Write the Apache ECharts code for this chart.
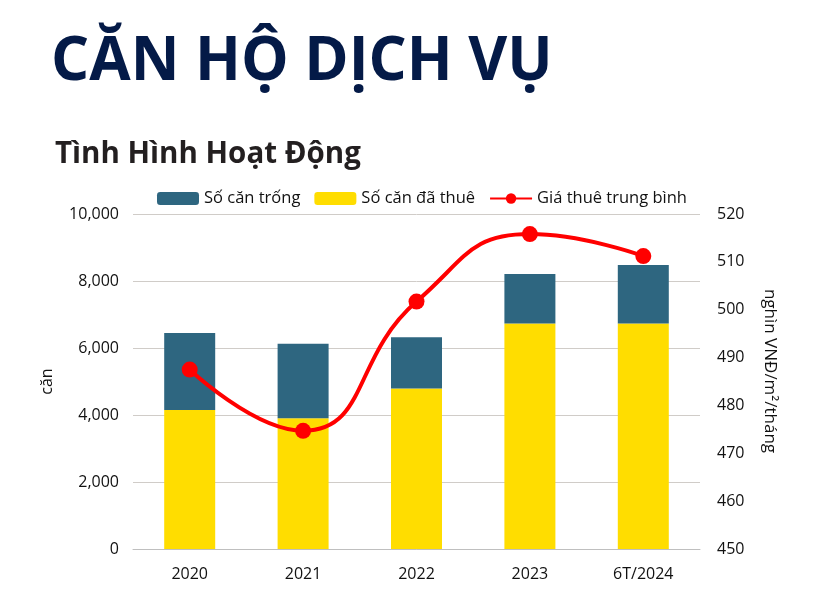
<!DOCTYPE html>
<html><head><meta charset="utf-8">
<script src="https://cdn.jsdelivr.net/npm/echarts@6/dist/echarts.min.js"></script>
<style>html,body{margin:0;padding:0;background:#fff}#c{width:822px;height:599px}</style>
</head><body><div id="c"></div>
<script>
const categories = ['2020', '2021', '2022', '2023', '6T/2024'];
const vacantUnits = [2300, 2230, 1530, 1480, 1750];
const leasedUnits = [4150, 3900, 4790, 6730, 6730];
const avgRent = [487.5, 474.7, 501.7, 515.8, 511.2];
const seriesNames = ['Số căn trống', 'Số căn đã thuê', 'Giá thuê trung bình'];
const mainTitle = 'CĂN HỘ DỊCH VỤ';
const subTitle = 'Tình Hình Hoạt Động';
const leftAxisName = 'căn';
const rightAxisName = 'nghìn VNĐ/m²/tháng';

const font = 'Open Sans';
const chart = echarts.init(document.getElementById('c'));
chart.setOption({
  animation: false,
  textStyle: { fontFamily: font },
  title: [
    { text: mainTitle, left: 46, top: 28, textStyle: { fontFamily: font, fontSize: 60, fontWeight: 'bold', color: '#041a47' } },
    { text: subTitle, left: 50, top: 135, textStyle: { fontFamily: font, fontSize: 29.5, fontWeight: 'bold', color: '#231f20' } }
  ],
  legend: {
    top: 185, left: 152,
    itemWidth: 42, itemHeight: 13, itemGap: 14,
    textStyle: { fontSize: 16.5, color: '#111', fontFamily: font },
    data: seriesNames
  },
  graphic: [
    { type: 'text', x: 770, y: 371, rotation: -Math.PI / 2,
      style: { text: rightAxisName, fontFamily: font, fontSize: 17, fill: '#111', textAlign: 'center', textVerticalAlign: 'middle', align: 'center', verticalAlign: 'middle' } }
  ],
  grid: { left: 133, right: 122, top: 214, bottom: 50 },
  xAxis: {
    type: 'category', data: categories,
    axisLine: { lineStyle: { color: '#bfbfbf' } },
    axisTick: { show: false },
    axisLabel: { fontSize: 16, color: '#111', margin: 17 }
  },
  yAxis: [
    { type: 'value', min: 0, max: 10000, interval: 2000, name: leftAxisName, nameLocation: 'middle', nameGap: 78, nameRotate: 90,
      nameTextStyle: { fontSize: 16, color: '#111' },
      axisLabel: { fontSize: 16, color: '#111', margin: 14, formatter: v => v.toLocaleString('en-US') },
      splitLine: { lineStyle: { color: '#d0ccc8' } } },
    { type: 'value', min: 450, max: 520, interval: 10, position: 'right',
      axisLabel: { fontSize: 16, color: '#111', margin: 17 },
      splitLine: { show: false } }
  ],
  series: [
    { name: seriesNames[1], type: 'bar', stack: 'u', data: leasedUnits, barWidth: 51, itemStyle: { color: '#ffdd00' } },
    { name: seriesNames[0], type: 'bar', stack: 'u', data: vacantUnits, barWidth: 51, itemStyle: { color: '#2e6680' } },
    { name: seriesNames[2], type: 'line', yAxisIndex: 1, data: avgRent, smooth: 0.5, symbol: 'circle', symbolSize: 16,
      lineStyle: { color: '#ff0000', width: 4 }, itemStyle: { color: '#ff0000' }, z: 5 }
  ]
});
</script></body></html>
